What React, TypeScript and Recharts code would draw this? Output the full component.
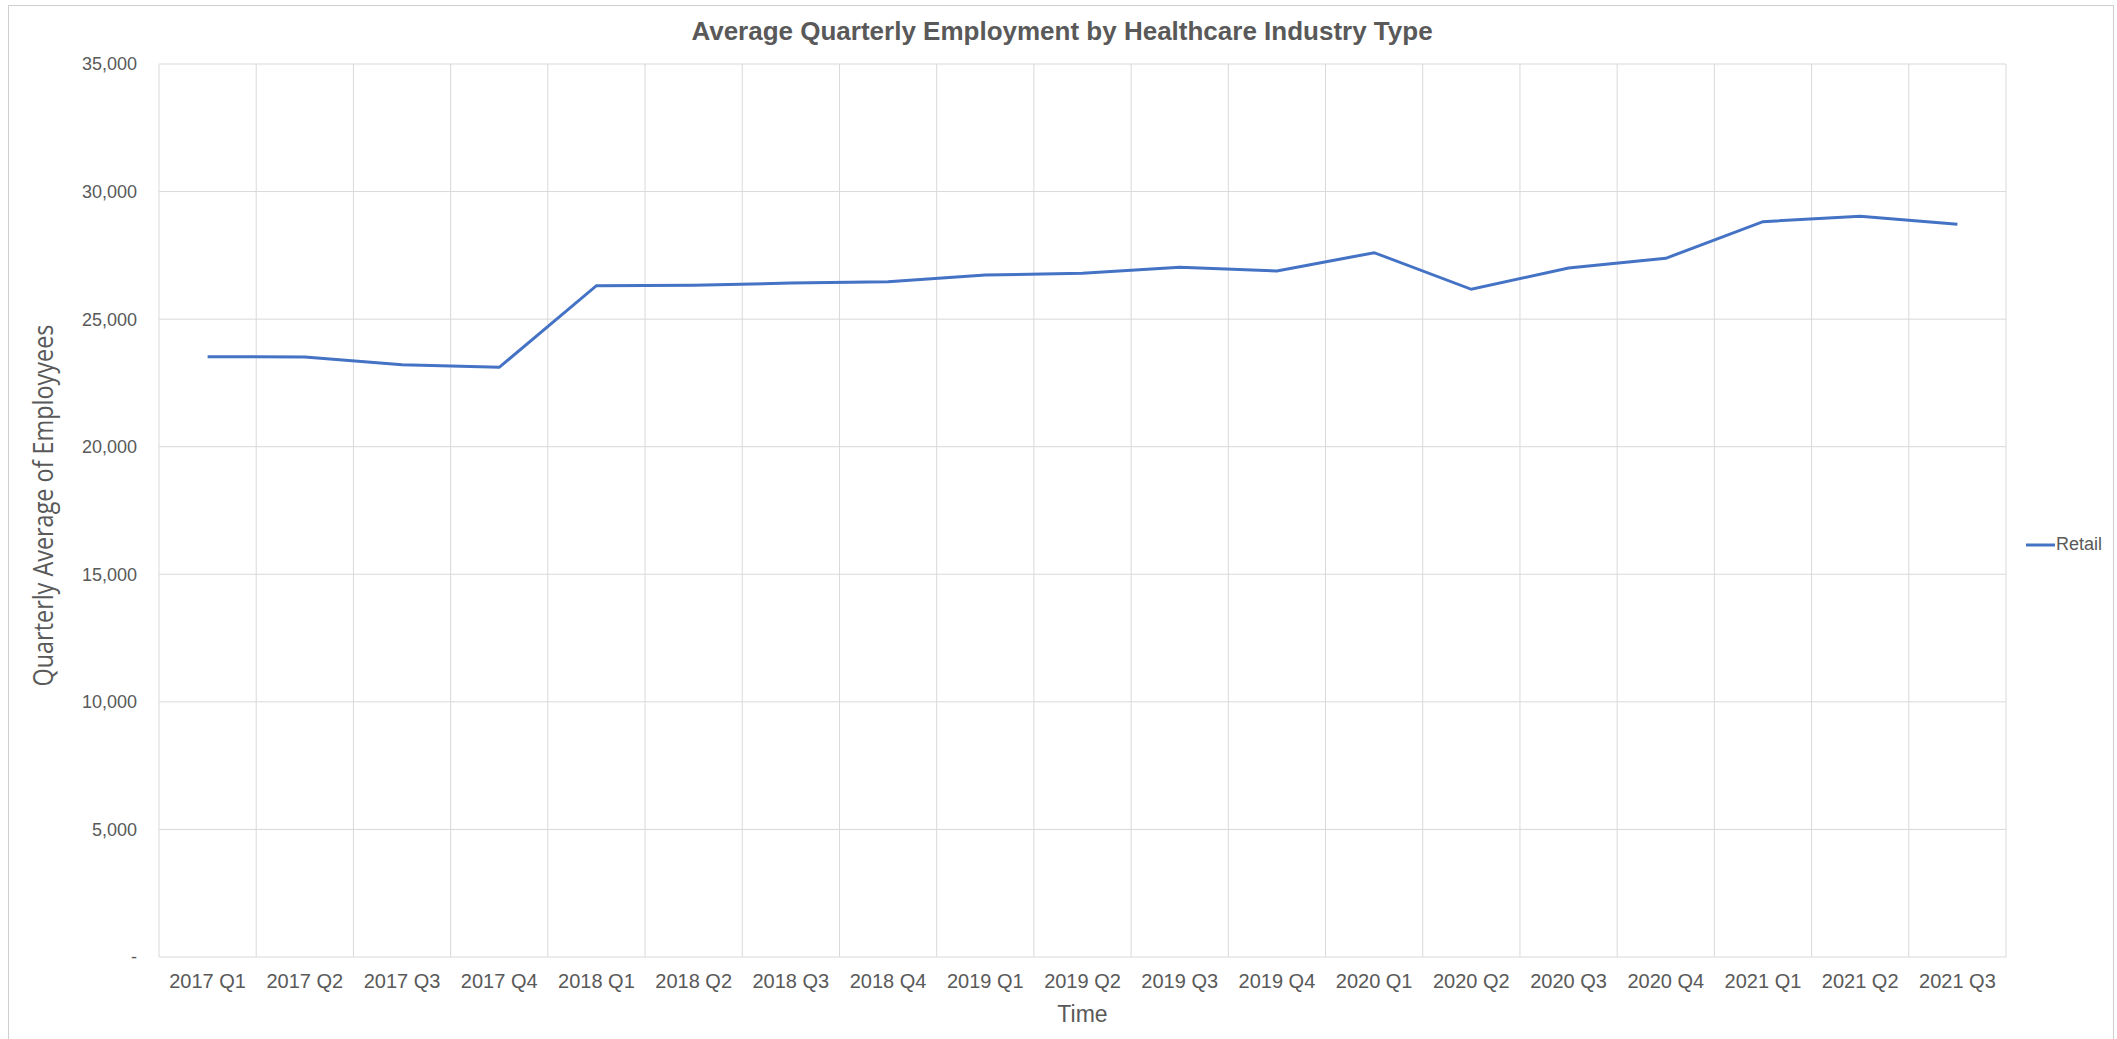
import React from 'react';
import { LineChart, Line, XAxis, YAxis, CartesianGrid, Legend } from 'recharts';

const quarters = [
  '2017 Q1', '2017 Q2', '2017 Q3', '2017 Q4',
  '2018 Q1', '2018 Q2', '2018 Q3', '2018 Q4',
  '2019 Q1', '2019 Q2', '2019 Q3', '2019 Q4',
  '2020 Q1', '2020 Q2', '2020 Q3', '2020 Q4',
  '2021 Q1', '2021 Q2', '2021 Q3',
];

const retail = [
  23528, 23516, 23215, 23112,
  26311, 26326, 26416, 26468,
  26730, 26796, 27032, 26887,
  27604, 26170, 27005, 27384,
  28820, 29029, 28716,
];

const yTicks = [0, 5000, 10000, 15000, 20000, 25000, 30000, 35000];

const chartTitle = 'Average Quarterly Employment by Healthcare Industry Type';
const xTitle = 'Time';
const yTitle = 'Quarterly Average of Employyees';
const seriesName = 'Retail';

const data = quarters.map((q, i) => ({ q, retail: retail[i] }));

const FONT = "'Liberation Sans', Arial, Helvetica, sans-serif";
const NARROW = "'Liberation Sans Narrow', 'Open Sans', 'Liberation Sans', sans-serif";
const TEXT = '#595959';
const GRID = '#d9d9d9';
const LINE = '#4472C4';

const fmt = (v: number) => (v === 0 ? '-' : v.toLocaleString('en-US'));

const YTitle = (props: any) => {
  const vb = props.viewBox || {};
  const cx = (vb.x ?? 0) + 53;
  const cy = (vb.y ?? 0) + vb.height / 2 - 5;
  return (
    <text
      x={cx}
      y={cy}
      transform={`rotate(-90, ${cx}, ${cy})`}
      textAnchor="middle"
      fill={TEXT}
      fontFamily={NARROW}
      fontSize={27}
      textLength={362}
      lengthAdjust="spacingAndGlyphs"
    >
      {yTitle}
    </text>
  );
};

const XTitle = (props: any) => {
  const vb = props.viewBox || {};
  return (
    <text
      x={(vb.x ?? 0) + vb.width / 2}
      y={(vb.y ?? 0) + 65}
      textAnchor="middle"
      fill={TEXT}
      fontFamily={FONT}
      fontSize={23}
    >
      {xTitle}
    </text>
  );
};

const LegendContent = () => (
  <div style={{ display: 'flex', alignItems: 'center', fontFamily: FONT, fontSize: 18, color: TEXT, whiteSpace: 'nowrap' }}>
    <svg width={29} height={6} style={{ display: 'block' }}>
      <line x1={0} y1={3} x2={29} y2={3} stroke={LINE} strokeWidth={3} />
    </svg>
    <span style={{ marginLeft: 1 }}>{seriesName}</span>
  </div>
);

export default function App() {
  return (
    <div style={{ position: 'absolute', left: 0, top: 0, width: 2117, height: 1039, overflow: 'hidden', background: '#fff' }}>
      <div
        style={{
          position: 'absolute',
          left: 8,
          top: 5,
          width: 2106,
          height: 1050,
          border: '1px solid #cfcfcf',
          boxSizing: 'border-box',
        }}
      />
      <div
        style={{
          position: 'absolute',
          left: 0,
          top: 18,
          width: 2124,
          textAlign: 'center',
          fontFamily: FONT,
          fontWeight: 'bold',
          fontSize: 26,
          lineHeight: '26px',
          color: TEXT,
        }}
      >
        {chartTitle}
      </div>
      <div style={{ position: 'absolute', left: 0, top: 0 }}>
        <LineChart width={2117} height={1039} data={data} margin={{ top: 64, right: 111, bottom: 0, left: 0 }}>
          <CartesianGrid
            stroke={GRID}
            strokeWidth={1}
            verticalCoordinatesGenerator={(p: any) => {
              const off = p.offset;
              return quarters.concat(['']).map((_, i) => off.left + (i * off.width) / quarters.length);
            }}
          />
          <XAxis
            dataKey="q"
            interval={0}
            axisLine={false}
            tickLine={false}
            tickSize={0}
            tickMargin={17}
            padding={{ left: 48.6, right: 48.6 }}
            tick={{ fill: TEXT, fontFamily: FONT, fontSize: 20 }}
            height={82}
            label={<XTitle />}
          />
          <YAxis
            width={159}
            domain={[0, 35000]}
            ticks={yTicks}
            interval={0}
            axisLine={false}
            tickLine={false}
            tickSize={0}
            tickMargin={22}
            tickFormatter={fmt}
            tick={{ fill: TEXT, fontFamily: FONT, fontSize: 18 }}
            label={<YTitle />}
          />
          <Legend
            layout="vertical"
            align="center"
            verticalAlign="middle"
            content={<LegendContent />}
            wrapperStyle={{ position: 'absolute', left: 2026, top: 534, width: 90, height: 24 }}
          />
          <Line
            type="linear"
            dataKey="retail"
            name={seriesName}
            stroke={LINE}
            strokeWidth={3}
            dot={false}
            activeDot={false}
            isAnimationActive={false}
          />
        </LineChart>
      </div>
    </div>
  );
}
